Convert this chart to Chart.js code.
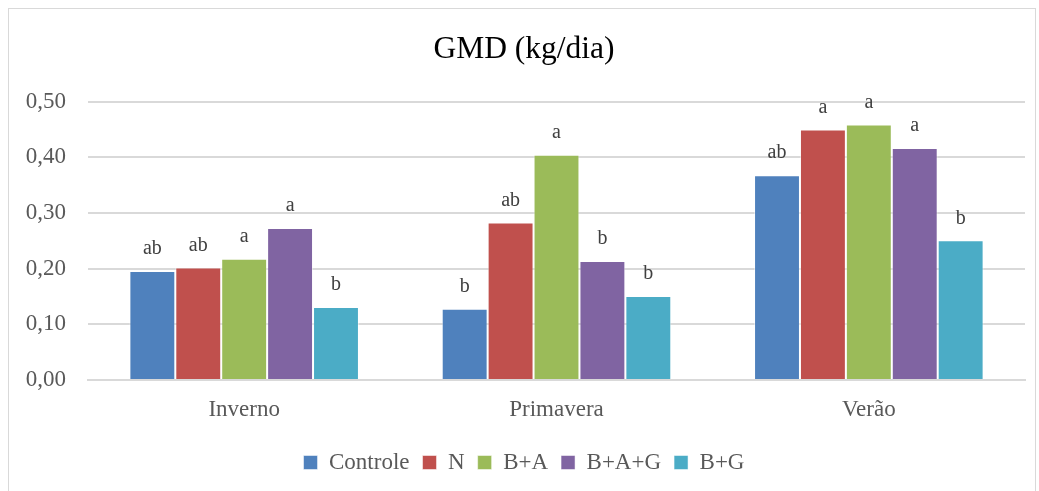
<!DOCTYPE html>
<html>
<head>
<meta charset="utf-8">
<script src="https://cdn.jsdelivr.net/npm/chart.js@4/dist/chart.umd.min.js"></script>
<style>
  body { margin: 0; background: #fff; }
  #box { position: absolute; left: 8px; top: 8px; width: 1026px; height: 490px; border: 1px solid #d9d9d9; }
</style>
</head>
<body>
<div id="box"><canvas id="gmd-chart" width="1026" height="482"></canvas></div>
<script>
// GMD por estação
const estacoes = ["Inverno", "Primavera", "Verão"];
const tratamentos = ["Controle", "N", "B+A", "B+A+G", "B+G"];
const cores = ["#4f81bd", "#c0504d", "#9bbb59", "#8064a2", "#4bacc6"];

const controle = [0.196, 0.128, 0.368];
const nitrogenio = [0.202, 0.283, 0.450];
const bA = [0.218, 0.405, 0.459];
const bAG = [0.273, 0.214, 0.417];
const bG = [0.131, 0.151, 0.251];

const letrasControle = ["ab", "b", "ab"];
const letrasN = ["ab", "ab", "a"];
const letrasBA = ["a", "a", "a"];
const letrasBAG = ["a", "b", "a"];
const letrasBG = ["b", "b", "b"];

const valores = [controle, nitrogenio, bA, bAG, bG];
const letras = [letrasControle, letrasN, letrasBA, letrasBAG, letrasBG];

const fonte = "'Liberation Serif', 'Times New Roman', serif";

const letrasPlugin = {
  id: "letras",
  afterDatasetsDraw(chart) {
    const ctx = chart.ctx;
    ctx.save();
    ctx.font = "20px " + fonte;
    ctx.fillStyle = "#404040";
    ctx.textAlign = "center";
    ctx.textBaseline = "bottom";
    chart.data.datasets.forEach((ds, i) => {
      chart.getDatasetMeta(i).data.forEach((bar, j) => {
        ctx.fillText(letras[i][j], bar.x, bar.y - 12);
      });
    });
    ctx.restore();
  },
};

const ctx = document.getElementById("gmd-chart").getContext("2d");
new Chart(ctx, {
  type: "bar",
  data: {
    labels: estacoes,
    datasets: tratamentos.map((t, i) => ({
      label: t,
      data: valores[i],
      backgroundColor: cores[i],
      borderColor: "rgba(255,255,255,0.5)",
      borderWidth: 1,
      categoryPercentage: 0.735,
      barPercentage: 1,
    })),
  },
  options: {
    responsive: false,
    animation: false,
    layout: { padding: { left: 14, right: 10, top: 0, bottom: 7 } },
    plugins: {
      title: {
        display: true,
        text: "GMD (kg/dia)",
        color: "#000",
        font: { family: fonte, size: 31.5, weight: "normal" },
        padding: { top: 22, bottom: 33 },
      },
      legend: {
        position: "bottom",
        labels: {
          color: "#595959",
          font: { family: fonte, size: 23 },
          boxWidth: 14,
          boxHeight: 14,
          padding: 13,
        },
      },
      tooltip: { enabled: false },
    },
    scales: {
      x: {
        grid: { display: false, drawTicks: false },
        border: { color: "#d9d9d9", width: 2 },
        ticks: { color: "#595959", font: { family: fonte, size: 23 }, padding: 16 },
        afterFit(scale) { scale.height = 58; },
      },
      y: {
        min: 0,
        max: 0.5,
        grid: { color: "#d9d9d9", lineWidth: 2, drawTicks: false },
        border: { display: false },
        ticks: {
          stepSize: 0.1,
          color: "#595959",
          font: { family: fonte, size: 23 },
          padding: 22,
          callback: (v) => v.toFixed(2).replace(".", ","),
        },
        afterFit(scale) { scale.width = 65; },
      },
    },
  },
  plugins: [letrasPlugin],
});
</script>
</body>
</html>
